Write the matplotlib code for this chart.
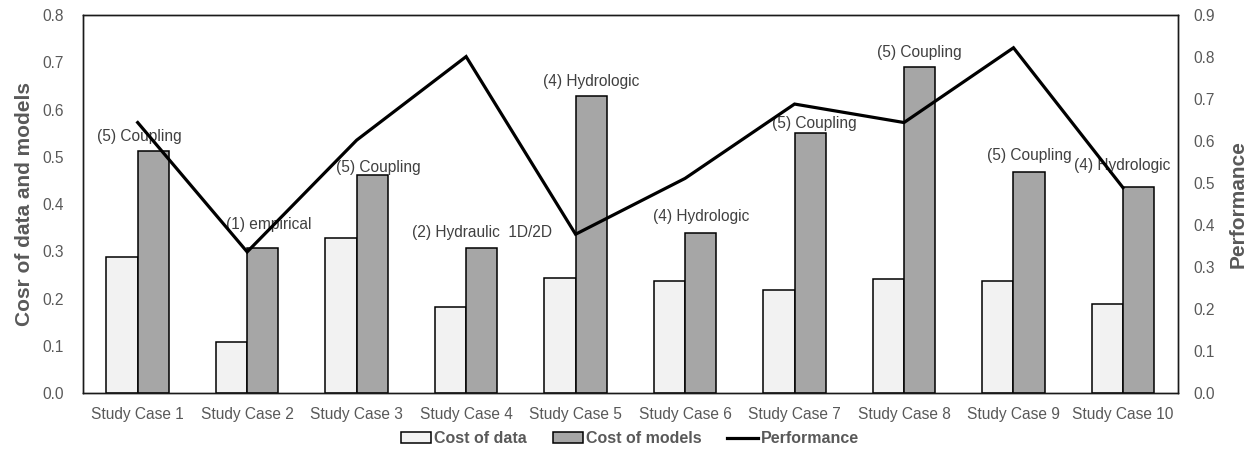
import numpy as np
import matplotlib.pyplot as plt

plt.rcParams['font.family'] = ['Liberation Sans', 'DejaVu Sans']

cases = ['Study Case %d' % i for i in range(1, 11)]
cost_data = [0.287, 0.109, 0.329, 0.181, 0.243, 0.236, 0.217, 0.241, 0.237, 0.188]
cost_models = [0.512, 0.306, 0.461, 0.306, 0.628, 0.339, 0.550, 0.689, 0.468, 0.435]
performance = [0.644, 0.336, 0.602, 0.801, 0.378, 0.511, 0.688, 0.644, 0.822, 0.489]
model_types = ['(5) Coupling', '(1) empirical', '(5) Coupling', '(2) Hydraulic  1D/2D',
               '(4) Hydrologic', '(4) Hydrologic', '(5) Coupling', '(5) Coupling',
               '(5) Coupling', '(4) Hydrologic']

# small nudges (in px) for a few crowded labels
label_dx = [-14, 6, 6, 0, 0, 0, 4, 0, 0, -16]
label_dy = [15, 24, 8, 16, 15, 16, 10, 15, 16, 22]

grey = '#595959'
fig = plt.figure(figsize=(12.55, 4.51), dpi=100)
ax = fig.add_axes([0.0661, 0.1286, 0.8723, 0.8381])
ax2 = ax.twinx()

x = np.arange(len(cases))
w = 0.286
ax.bar(x - w / 2, cost_data, w, color='#F2F2F2', edgecolor='black', linewidth=1.1,
       label='Cost of data', zorder=2)
ax.bar(x + w / 2, cost_models, w, color='#A6A6A6', edgecolor='black', linewidth=1.1,
       label='Cost of models', zorder=2)

for i, txt in enumerate(model_types):
    ax.annotate(txt, (x[i] + w / 2, cost_models[i]),
                xytext=(label_dx[i] * 0.72, label_dy[i] * 0.72), textcoords='offset points',
                ha='center', va='center', fontsize=11.2, color='#404040')

ax2.plot(x, performance, color='black', linewidth=2.3, label='Performance',
         solid_joinstyle='miter')

ax.set_xlim(-0.5, 9.5)
ax.set_ylim(0, 0.8)
ax2.set_ylim(0, 0.9)
ax.set_yticks(np.arange(0, 0.81, 0.1))
ax2.set_yticks(np.arange(0, 0.91, 0.1))
ax.set_yticklabels(['%.1f' % v for v in np.arange(0, 0.81, 0.1)])
ax2.set_yticklabels(['%.1f' % v for v in np.arange(0, 0.91, 0.1)])
ax.set_xticks(x)
ax.set_xticklabels(cases)

for a in (ax, ax2):
    a.tick_params(length=0, labelsize=11.2, labelcolor=grey)
    for s in a.spines.values():
        s.set_color('#1a1a1a')
        s.set_linewidth(1.0)
ax.tick_params(axis='y', pad=14)
ax.tick_params(axis='x', pad=10)
ax2.tick_params(axis='y', pad=11)

ax.set_ylabel('Cosr of data and models', fontsize=15, fontweight='bold', color=grey,
              labelpad=6)
ax2.set_ylabel('Performance', fontsize=15, fontweight='bold', color=grey, labelpad=10)

h1, l1 = ax.get_legend_handles_labels()
h2, l2 = ax2.get_legend_handles_labels()
leg = fig.legend(h1 + h2, l1 + l2, loc='center', bbox_to_anchor=(0.502, 0.027), ncol=3,
                 frameon=False, handlelength=1.9, handletextpad=0.2, columnspacing=1.6,
                 prop={'size': 11.5, 'weight': 'bold'})
for t in leg.get_texts():
    t.set_color(grey)

fig.savefig('out.png', dpi=100)
